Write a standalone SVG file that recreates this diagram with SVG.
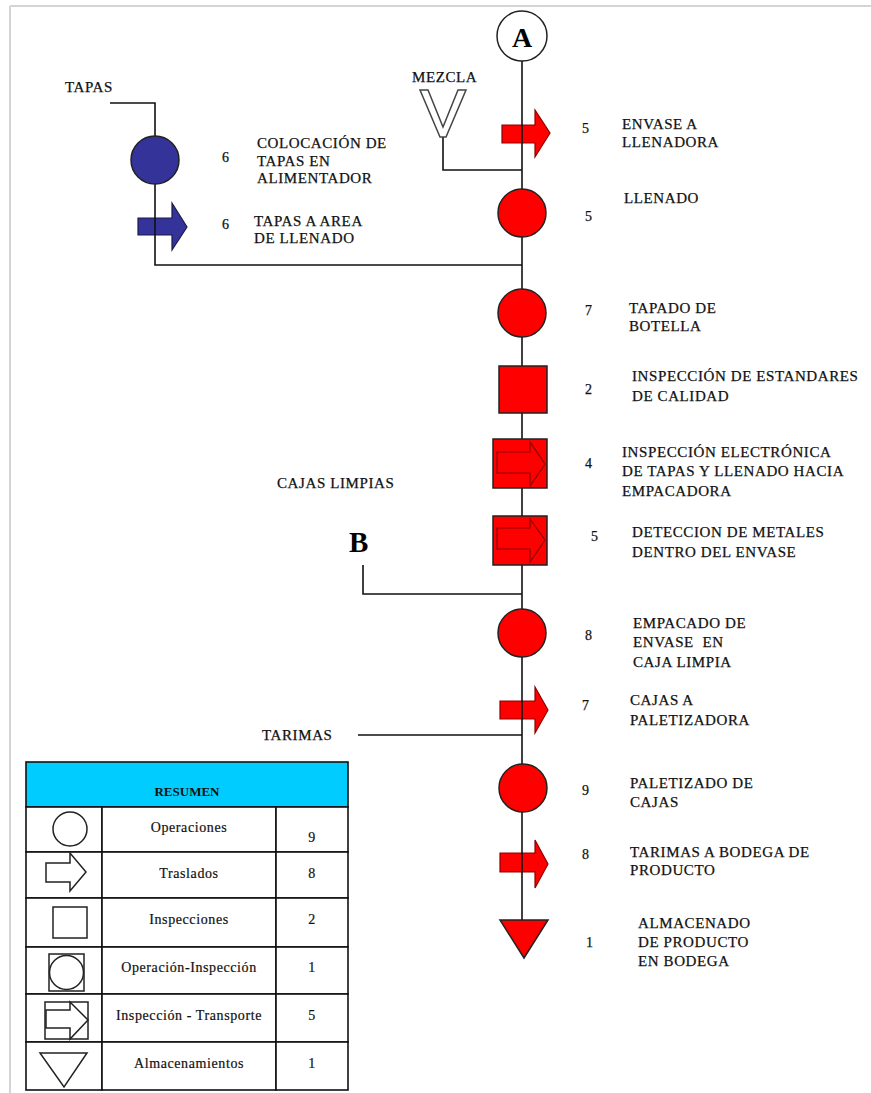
<svg xmlns="http://www.w3.org/2000/svg" width="871" height="1093" viewBox="0 0 871 1093">
  <style>
    text { font-family: "Liberation Serif", "DejaVu Serif", serif; }
    .t { font-size: 15px; fill: #111; stroke: #111; stroke-width: 0.25px; letter-spacing: 0.6px; }
    .n { font-size: 14px; fill: #111; stroke: #111; stroke-width: 0.25px; }
    .tb { font-size: 14px; fill: #111; stroke: #111; stroke-width: 0.2px; letter-spacing: 0.6px; }
    .big { font-weight: bold; fill: #000; }
    .op { fill: #FF0000; stroke: #222; stroke-width: 1.5; }
    .opb { fill: #333399; stroke: #222; stroke-width: 1.5; }
    .mv { fill: #FF0000; stroke: #8B0000; stroke-width: 1.2; }
    .mvb { fill: #333399; stroke: #1a1a4d; stroke-width: 1.2; }
    .ln { fill: none; stroke: #111; stroke-width: 1.6; }
    .ic { fill: none; stroke: #222; stroke-width: 1.5; }
    .cell { fill: #fff; stroke: #111; stroke-width: 1.6; }
  </style>

  <!-- page frame -->
  <g id="frame">
    <line x1="10" y1="6" x2="871" y2="6" stroke="#d4d4d4" stroke-width="2"/>
    <line x1="10" y1="6" x2="10" y2="1093" stroke="#d4d4d4" stroke-width="2"/>
  </g>

  <!-- movement (arrow) nodes, drawn under the flow line -->
  <g id="n-tapas-area">
    <polygon class="mvb" points="138,218 172,218 172,203 187,227 172,250 172,235 138,235"/>
  </g>
  <g id="n-envase-llenadora">
    <polygon class="mv" points="502,125 535,125 535,110 550,133 535,157 535,143 502,143"/>
  </g>
  <g id="n-cajas-paletizadora">
    <polygon class="mv" points="500,701 535,701 535,687 548,710 535,733 535,719 500,719"/>
  </g>
  <g id="n-tarimas-bodega">
    <polygon class="mv" points="500,853 535,853 535,840 548,864 535,888 535,872 500,872"/>
  </g>

  <!-- connectors -->
  <g id="connectors">
    <line class="ln" x1="522" y1="61" x2="522" y2="920"/>
    <polyline class="ln" points="110,103 155,103 155,137"/>
    <polyline class="ln" points="155,183 155,265 522,265"/>
    <polyline class="ln" points="443,137 443,170 522,170"/>
    <polyline class="ln" points="363,565 363,594 522,594"/>
    <line class="ln" x1="358" y1="735" x2="522" y2="735"/>
  </g>

  <!-- connector A -->
  <g id="n-a">
    <circle cx="522" cy="36" r="25" fill="#fff" stroke="#222" stroke-width="1.5"/>
    <text class="big" x="522" y="47" font-size="28" text-anchor="middle">A</text>
  </g>

  <!-- input: mezcla -->
  <g id="n-mezcla">
    <text class="t" x="412" y="82" font-size="14">MEZCLA</text>
    <polygon points="420,90 428,90 443,127 458,90 466,90 446,137 440,137" fill="#fff" stroke="#444" stroke-width="1.5"/>
  </g>

  <!-- input: tapas -->
  <g id="n-tapas">
    <text class="t" x="65" y="92">TAPAS</text>
  </g>

  <g id="n-colocacion">
    <circle class="opb" cx="155" cy="160" r="24"/>
  </g>

  <g id="n-llenado">
    <circle class="op" cx="522" cy="213" r="24"/>
  </g>

  <g id="n-tapado">
    <circle class="op" cx="522" cy="313" r="24"/>
  </g>

  <g id="n-inspeccion-calidad">
    <rect class="op" x="499" y="366" width="48" height="47"/>
  </g>

  <g id="n-inspeccion-electronica">
    <rect class="op" x="493" y="439" width="54" height="49"/>
    <polygon class="mv" points="497,452 530,452 530,442 545,464 530,486 530,473 497,473"/>
  </g>

  <g id="n-deteccion-metales">
    <rect class="op" x="493" y="516" width="54" height="49"/>
    <polygon class="mv" points="497,528 530,528 530,519 545,540 530,562 530,549 497,549"/>
  </g>

  <!-- input: cajas limpias / connector B -->
  <g id="n-b">
    <text class="t" x="277" y="488">CAJAS LIMPIAS</text>
    <text class="big" x="349" y="552" font-size="29">B</text>
  </g>

  <g id="n-empacado">
    <circle class="op" cx="522" cy="633" r="24"/>
  </g>

  <g id="n-tarimas">
    <text class="t" x="262" y="740">TARIMAS</text>
  </g>

  <g id="n-paletizado">
    <circle class="op" cx="523" cy="788" r="24"/>
  </g>

  <g id="n-almacenado">
    <polygon class="op" points="500,920 548,920 524,958"/>
  </g>

  <!-- step numbers and descriptions -->
  <g id="labels">
    <text class="n" x="222" y="162">6</text>
    <text class="t" x="257" y="148">COLOCACIÓN DE</text>
    <text class="t" x="257" y="166">TAPAS EN</text>
    <text class="t" x="257" y="183">ALIMENTADOR</text>

    <text class="n" x="222" y="229">6</text>
    <text class="t" x="254" y="226">TAPAS A AREA</text>
    <text class="t" x="254" y="243">DE LLENADO</text>

    <text class="n" x="582" y="133">5</text>
    <text class="t" x="622" y="129">ENVASE A</text>
    <text class="t" x="622" y="147">LLENADORA</text>

    <text class="n" x="585" y="221">5</text>
    <text class="t" x="624" y="203">LLENADO</text>

    <text class="n" x="585" y="315">7</text>
    <text class="t" x="629" y="313">TAPADO DE</text>
    <text class="t" x="629" y="331">BOTELLA</text>

    <text class="n" x="585" y="394">2</text>
    <text class="t" x="632" y="381">INSPECCIÓN DE ESTANDARES</text>
    <text class="t" x="632" y="401">DE CALIDAD</text>

    <text class="n" x="585" y="468">4</text>
    <text class="t" x="622" y="457">INSPECCIÓN ELECTRÓNICA</text>
    <text class="t" x="622" y="476">DE TAPAS Y LLENADO HACIA</text>
    <text class="t" x="622" y="496">EMPACADORA</text>

    <text class="n" x="591" y="541">5</text>
    <text class="t" x="632" y="537">DETECCION DE METALES</text>
    <text class="t" x="632" y="557">DENTRO DEL ENVASE</text>

    <text class="n" x="585" y="640">8</text>
    <text class="t" x="633" y="628">EMPACADO DE</text>
    <text class="t" x="633" y="647" xml:space="preserve">ENVASE  EN</text>
    <text class="t" x="633" y="667">CAJA LIMPIA</text>

    <text class="n" x="582" y="710">7</text>
    <text class="t" x="630" y="705">CAJAS A</text>
    <text class="t" x="630" y="725">PALETIZADORA</text>

    <text class="n" x="582" y="795">9</text>
    <text class="t" x="630" y="788">PALETIZADO DE</text>
    <text class="t" x="630" y="807">CAJAS</text>

    <text class="n" x="582" y="859">8</text>
    <text class="t" x="630" y="857">TARIMAS A BODEGA DE</text>
    <text class="t" x="630" y="875">PRODUCTO</text>

    <text class="n" x="586" y="947">1</text>
    <text class="t" x="638" y="928">ALMACENADO</text>
    <text class="t" x="638" y="947">DE PRODUCTO</text>
    <text class="t" x="638" y="966">EN BODEGA</text>
  </g>

  <!-- summary table -->
  <g id="resumen">
    <rect x="26" y="762" width="322" height="45" fill="#00CCFF" stroke="#111" stroke-width="1.6"/>
    <text x="187" y="796" text-anchor="middle" font-weight="bold" font-size="13" fill="#111">RESUMEN</text>

    <rect class="cell" x="26" y="807" width="76" height="45"/>
    <rect class="cell" x="102" y="807" width="174" height="45"/>
    <rect class="cell" x="276" y="807" width="72" height="45"/>
    <rect class="cell" x="26" y="852" width="76" height="46"/>
    <rect class="cell" x="102" y="852" width="174" height="46"/>
    <rect class="cell" x="276" y="852" width="72" height="46"/>
    <rect class="cell" x="26" y="898" width="76" height="49"/>
    <rect class="cell" x="102" y="898" width="174" height="49"/>
    <rect class="cell" x="276" y="898" width="72" height="49"/>
    <rect class="cell" x="26" y="947" width="76" height="47"/>
    <rect class="cell" x="102" y="947" width="174" height="47"/>
    <rect class="cell" x="276" y="947" width="72" height="47"/>
    <rect class="cell" x="26" y="994" width="76" height="48"/>
    <rect class="cell" x="102" y="994" width="174" height="48"/>
    <rect class="cell" x="276" y="994" width="72" height="48"/>
    <rect class="cell" x="26" y="1042" width="76" height="48"/>
    <rect class="cell" x="102" y="1042" width="174" height="48"/>
    <rect class="cell" x="276" y="1042" width="72" height="48"/>

    <!-- legend symbols -->
    <circle class="ic" cx="70" cy="829" r="17"/>
    <polygon class="ic" points="46,863 70,863 70,853 86,872 70,891 70,882 46,882"/>
    <rect class="ic" x="53" y="907" width="34" height="31"/>
    <rect class="ic" x="49" y="954" width="35" height="37"/>
    <circle class="ic" cx="66.5" cy="972.5" r="17"/>
    <rect class="ic" x="45" y="1002" width="43" height="37"/>
    <polygon class="ic" points="46,1010 70,1010 70,1002 88,1020 70,1039 70,1028 46,1028"/>
    <polygon class="ic" points="40,1053 87,1053 64,1087"/>

    <!-- legend texts -->
    <text class="tb" x="189" y="832" text-anchor="middle">Operaciones</text>
    <text class="tb" x="312" y="842" text-anchor="middle">9</text>
    <text class="tb" x="189" y="878" text-anchor="middle">Traslados</text>
    <text class="tb" x="312" y="878" text-anchor="middle">8</text>
    <text class="tb" x="189" y="924" text-anchor="middle">Inspecciones</text>
    <text class="tb" x="312" y="924" text-anchor="middle">2</text>
    <text class="tb" x="189" y="972" text-anchor="middle">Operación-Inspección</text>
    <text class="tb" x="312" y="972" text-anchor="middle">1</text>
    <text class="tb" x="189" y="1020" text-anchor="middle">Inspección - Transporte</text>
    <text class="tb" x="312" y="1020" text-anchor="middle">5</text>
    <text class="tb" x="189" y="1068" text-anchor="middle">Almacenamientos</text>
    <text class="tb" x="312" y="1068" text-anchor="middle">1</text>
  </g>
</svg>
